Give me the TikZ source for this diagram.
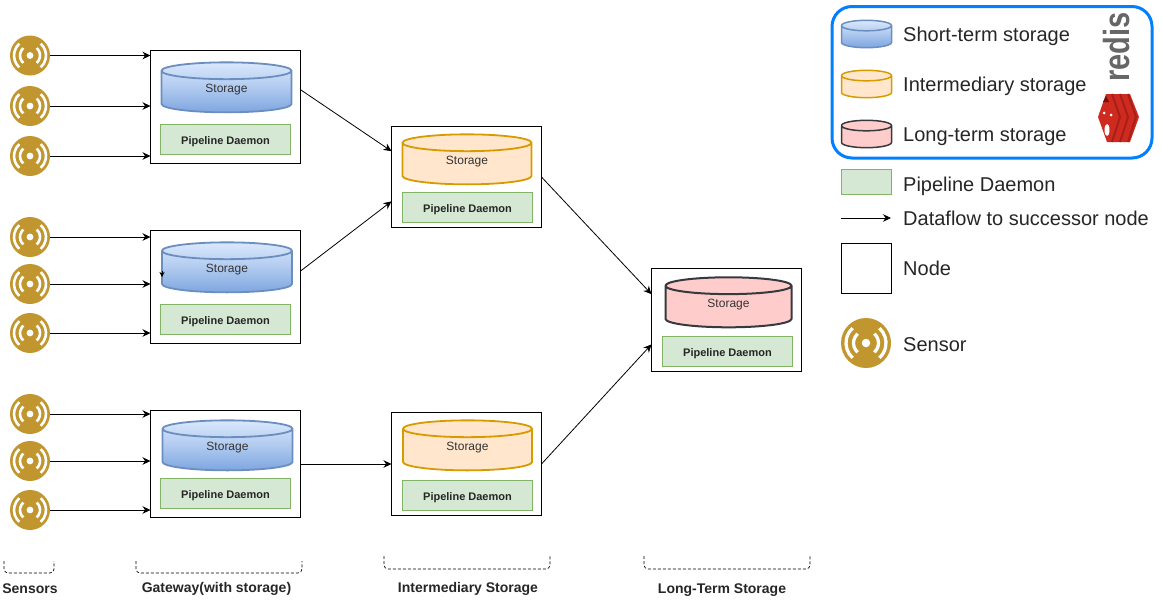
\documentclass[tikz,border=0pt]{standalone}
\usepackage{fontspec}
\usepackage{graphicx}
\setmainfont{Liberation Sans}
\usetikzlibrary{arrows.meta,shapes.geometric,calc}

\definecolor{shortfill}{HTML}{DAE8FC}
\definecolor{shortfilldark}{HTML}{7EA6E0}
\definecolor{shortline}{HTML}{6C8EBF}
\definecolor{midfill}{HTML}{FFE6CC}
\definecolor{midline}{HTML}{D79B00}
\definecolor{longfill}{HTML}{FFCCCC}
\definecolor{longline}{HTML}{36393D}
\definecolor{daemonfill}{HTML}{D5E8D4}
\definecolor{daemonline}{HTML}{82B366}
\definecolor{sensorgold}{HTML}{C2962E}
\definecolor{legendblue}{HTML}{007FFF}
\definecolor{redisred}{HTML}{CF2A20}
\definecolor{redisstripe}{HTML}{A81F17}

\tikzset{
    nodebox/.style={draw=black, line width=1pt, minimum width=150pt, inner sep=0pt, outer sep=0pt},
    cyl/.style={cylinder, shape border rotate=90, aspect=0.4, line width=1.8pt, inner sep=0pt, outer sep=0pt,
        minimum width=#1, text depth=6.5pt, font=\fontsize{12}{14}\selectfont, text=black!80},
    storeshort/.style={cyl=130pt, minimum height=50pt, draw=shortline, top color=shortfill, bottom color=shortfilldark, middle color=shortfill!55!shortfilldark},
    storemid/.style={cyl=129pt, minimum height=50pt, draw=midline, fill=midfill},
    storelong/.style={cyl=126pt, minimum height=50pt, line width=2pt, draw=longline, fill=longfill},
    legcyl/.style={cylinder, shape border rotate=90, aspect=0.25, line width=1.5pt, inner sep=0pt, outer sep=0pt,
        minimum width=50pt, minimum height=20pt, font=\fontsize{12}{14}\selectfont},
    daemon/.style={draw=daemonline, fill=daemonfill, line width=0.8pt, minimum width=130pt, minimum height=30pt,
        inner sep=0pt, text height=12pt, text depth=2.3pt, font=\fontsize{11}{13}\selectfont\bfseries, text=black!85},
    sensor/.style={circle, fill=sensorgold, inner sep=0pt, outer sep=0pt, minimum size=2*#1,
        path picture={
            \foreach \side in {0,180} {
                \draw[white, line width=0.13*#1]
                    ($(path picture bounding box.center)+(\side+48:0.5*#1)$)
                    arc[start angle=\side+48, end angle=\side-48, radius=0.5*#1];
                \draw[white, line width=0.13*#1]
                    ($(path picture bounding box.center)+(\side+48:0.8*#1)$)
                    arc[start angle=\side+48, end angle=\side-48, radius=0.8*#1];
            }
            \fill[white] (path picture bounding box.center) circle[radius=0.17*#1];
        }},
    flow/.style={-{Stealth[length=8pt,width=7.5pt]}, line width=0.8pt, black},
    grouplabel/.style={font=\fontsize{14}{16}\selectfont\bfseries, text=black!85},
    groupbrace/.style={rounded corners=4pt, line width=0.7pt, dash pattern=on 3pt off 2pt},
    legendtext/.style={anchor=west, inner sep=0pt, font=\fontsize{20}{24}\selectfont, text=black!85},
}

\begin{document}
\begin{tikzpicture}[x=1pt,y=-1pt]
    \useasboundingbox (0,0) rectangle (1162,600);

    % node boxes
    \node[nodebox, minimum height=113pt] (gwa) at (225.5,107) {};
    \node[nodebox, minimum height=113pt] (gwb) at (225.5,287) {};
    \node[nodebox, minimum height=107pt] (gwc) at (225.5,464) {};
    \node[nodebox, minimum height=101pt] (ima) at (466.5,177) {};
    \node[nodebox, minimum height=103pt] (imb) at (466.5,464) {};
    \node[nodebox, minimum height=103pt] (lts) at (726.5,320) {};

    % storage
    \node[storeshort] (stga) at (226.5,92) {Storage};
    \node[storeshort] (stgb) at (227,272) {Storage};
    \node[storeshort] (stgc) at (227.5,450) {Storage};
    \node[storemid] (stia) at (467,164) {Storage};
    \node[storemid] (stib) at (467.5,450) {Storage};
    \node[storelong] (stl) at (728.5,307) {Storage};

    % daemons
    \node[daemon] (pda) at (225.5,139.5) {Pipeline Daemon};
    \node[daemon] (pdb) at (225.5,319.5) {Pipeline Daemon};
    \node[daemon] (pdc) at (225.5,493.5) {Pipeline Daemon};
    \node[daemon] (pdd) at (467.5,207.5) {Pipeline Daemon};
    \node[daemon] (pde) at (467.5,495.5) {Pipeline Daemon};
    \node[daemon] (pdf) at (727.5,351.5) {Pipeline Daemon};

    % sensors
    \foreach \name/\ypos/\target in {sa/55.5/gwa, sb/106/gwa, sc/156/gwa,
                                     sd/237/gwb, se/284/gwb, sf/333/gwb,
                                     sg/414/gwc, sh/461/gwc, si/510/gwc} {
        \node[sensor=20pt] (\name) at (30,\ypos) {};
        \draw[flow] (\name.east) -- (\target.west |- \name.east);
    }

    % stray tip on the second storage
    \coordinate (tipa) at (162,271);
    \coordinate (tipb) at (162,277);
    \draw[-{Stealth[length=5pt,width=5pt]}, line width=0.5pt] (tipa) -- (tipb);

    % dataflow between nodes
    \draw[flow] (gwa.13) -- (ima.161);
    \draw[flow] (gwb.12) -- (ima.198);
    \draw[flow] (gwc.east) -- (imb.west);
    \draw[flow] (ima.east) -- (lts.161);
    \draw[flow] (imb.east) -- (lts.198);

    % group labels
    \draw[groupbrace] (4,561) -- (4,573) -- (54,573) -- (54,561);
    \draw[groupbrace] (136,561) -- (136,573) -- (302,573) -- (302,561);
    \draw[groupbrace] (384,556) -- (384,569) -- (550,569) -- (550,556);
    \draw[groupbrace] (644,556) -- (644,569) -- (810,569) -- (810,556);
    \node[grouplabel] (lbsens) at (30,589) {Sensors};
    \node[grouplabel] (lbgw) at (216.5,589) {Gateway(with storage)};
    \node[grouplabel] (lbim) at (468,589) {Intermediary Storage};
    \node[grouplabel] (lblts) at (722,590) {Long-Term Storage};

    % legend
    \draw[legendblue, line width=3pt, rounded corners=20pt] (832,6.5) rectangle (1152,158);
    \node[legcyl, draw=shortline, top color=shortfill, bottom color=shortfilldark] (lgshort) at (866.5,37) {\phantom{Storage}};
    \node[legcyl, draw=midline, fill=midfill] (lgmid) at (866.5,87) {\phantom{Storage}};
    \node[legcyl, draw=longline, fill=longfill] (lglong) at (866.5,137) {\phantom{Storage}};
    \node[legendtext] (txshort) at (903,36) {Short-term storage};
    \node[legendtext] (txmid) at (903,86) {Intermediary storage};
    \node[legendtext] (txlong) at (903,137) {Long-term storage};

    \node[draw=daemonline, fill=daemonfill, line width=0.8pt, minimum width=50pt, minimum height=25pt, inner sep=0pt] (lgpd) at (866.5,181.5) {};
    \node[legendtext] (txpd) at (903,186) {Pipeline Daemon};
    \coordinate (lgfa) at (841,218);
    \coordinate (lgfb) at (891,218);
    \draw[flow] (lgfa) -- (lgfb);
    \node[legendtext] (txflow) at (903,218) {Dataflow to successor node};
    \node[draw=black, line width=1pt, minimum size=50pt, inner sep=0pt] (lgnode) at (866.5,268) {};
    \node[legendtext] (txnode) at (903,268) {Node};
    \node[sensor=25pt] (lgsensor) at (866,343) {};
    \node[legendtext] (txsensor) at (903,345) {Sensor};

    % redis logo
    \node[rotate=90, inner sep=0pt, font=\fontsize{29}{30}\selectfont\bfseries, text=black!60] (rdword) at (1117,47) {\scalebox{1}[1.25]{redis}};
    \fill[redisred] (1098,117) -- (1106,94) -- (1130,94) -- (1139,117) -- (1130,142) -- (1107,142) -- cycle;
    \foreach \dx in {0,8,16} {
        \draw[redisstripe, line width=2pt] (1112+\dx,94) -- (1120+\dx,117) -- (1112+\dx,142);
    }
    \fill[black!50!redisred] (1106,96) -- (1109,102) -- (1103,102) -- cycle;
    \fill[white] (1107,130) ellipse[x radius=2.5, y radius=6];
    \fill[white] (1104,113) circle[radius=1.5];
    \fill[white] (1111,115) circle[radius=1.5];
\end{tikzpicture}
\end{document}
